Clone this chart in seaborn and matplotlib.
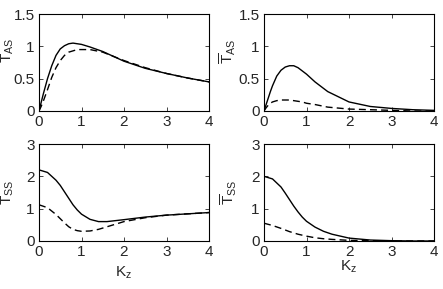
"""
Transmission curves T_AS / T_SS vs K_z (four panels)
"""
import numpy as np
import pandas as pd
import matplotlib
matplotlib.use('Agg')
import matplotlib.pyplot as plt
import seaborn as sns

# ============================================================================
# DATA
# ============================================================================
kz_as = [0, 0.05, 0.1, 0.15, 0.2, 0.3, 0.4, 0.5, 0.6, 0.7, 0.8, 0.9, 1.0, 1.2, 1.5, 2.0, 2.5, 3.0, 3.5, 4.0]
tas_solid = [0, 0.13, 0.26, 0.38, 0.50, 0.70, 0.86, 0.96, 1.01, 1.04, 1.05, 1.04, 1.03, 0.99, 0.92, 0.77, 0.66, 0.58, 0.51, 0.45]
tas_dash = [0, 0.07, 0.15, 0.24, 0.33, 0.52, 0.67, 0.78, 0.86, 0.91, 0.93, 0.95, 0.95, 0.95, 0.91, 0.78, 0.67, 0.58, 0.51, 0.45]

tasbar_solid = [0, 0.10, 0.20, 0.30, 0.39, 0.54, 0.63, 0.68, 0.70, 0.70, 0.67, 0.62, 0.57, 0.45, 0.30, 0.14, 0.07, 0.04, 0.02, 0.01]
tasbar_dash = [0, 0.05, 0.09, 0.12, 0.14, 0.16, 0.17, 0.17, 0.17, 0.16, 0.15, 0.14, 0.12, 0.10, 0.06, 0.03, 0.02, 0.01, 0.0, 0.0]

kz_ss = [0, 0.2, 0.4, 0.5, 0.6, 0.7, 0.8, 0.9, 1.0, 1.2, 1.4, 1.6, 2.0, 2.5, 3.0, 3.5, 4.0]
tss_solid = [2.2, 2.12, 1.88, 1.72, 1.52, 1.32, 1.12, 0.96, 0.83, 0.67, 0.60, 0.60, 0.66, 0.74, 0.80, 0.84, 0.88]
tss_dash = [1.12, 1.03, 0.82, 0.69, 0.56, 0.44, 0.36, 0.32, 0.30, 0.31, 0.36, 0.44, 0.60, 0.72, 0.80, 0.84, 0.88]

tssbar_solid = [2.0, 1.92, 1.67, 1.48, 1.28, 1.08, 0.90, 0.74, 0.61, 0.43, 0.30, 0.21, 0.09, 0.03, 0.01, 0.0, 0.0]
tssbar_dash = [0.55, 0.48, 0.39, 0.34, 0.29, 0.25, 0.21, 0.18, 0.15, 0.10, 0.07, 0.05, 0.02, 0.01, 0.0, 0.0, 0.0]

# ============================================================================
# STYLE
# ============================================================================
sns.set_style('ticks')
plt.rcParams['font.family'] = ['Liberation Sans', 'DejaVu Sans']
plt.rcParams['font.size'] = 8
plt.rcParams['mathtext.fontset'] = 'custom'
plt.rcParams['mathtext.rm'] = 'Liberation Sans'
plt.rcParams['mathtext.it'] = 'Liberation Sans'
plt.rcParams['xtick.direction'] = 'in'
plt.rcParams['ytick.direction'] = 'in'

W, H = 443, 289
fig = plt.figure(figsize=(W / 100, H / 100), dpi=100)


def make_axes(x0, y0, x1, y1):
    return fig.add_axes([x0 / W, 1 - y1 / H, (x1 - x0) / W, (y1 - y0) / H])


def draw(ax, x, solid, dash, ylim, yticks, yticklabels, ylabel, label_xy):
    df = pd.DataFrame({'kz': list(x) * 2, 'T': list(solid) + list(dash),
                       'kind': ['solid'] * len(x) + ['dash'] * len(x)})
    sns.lineplot(data=df, x='kz', y='T', style='kind', color='black',
                 dashes={'solid': '', 'dash': (5, 3)}, linewidth=1.0,
                 legend=False, ax=ax)
    ax.set_xlim(0, 4)
    ax.set_ylim(*ylim)
    ax.set_xticks([0, 1, 2, 3, 4])
    ax.set_xticklabels(['0', '1', '2', '3', '4'], fontsize=11)
    ax.set_yticks(yticks)
    ax.set_yticklabels(yticklabels, fontsize=11)
    ax.tick_params(top=True, right=True, length=3, width=0.6, pad=3)
    for s in ax.spines.values():
        s.set_linewidth(0.8)
        s.set_color('black')
    ax.set_ylabel(ylabel, fontsize=11)
    ax.yaxis.set_label_coords(*label_xy)
    ax.set_xlabel('')


ax1 = make_axes(39, 14, 209, 111)
ax2 = make_axes(264, 14, 434, 111)
ax3 = make_axes(39, 144, 209, 241)
ax4 = make_axes(264, 144, 434, 241)

top_ticks = [0, 0.5, 1, 1.5]
top_labels = ['0', '0.5', '1', '1.5']
bot_ticks = [0, 1, 2, 3]
bot_labels = ['0', '1', '2', '3']

draw(ax1, kz_as, tas_solid, tas_dash, (0, 1.5), top_ticks, top_labels,
     r'$\mathrm{T_{AS}}$', (-0.135, 0.62))
draw(ax2, kz_as, tasbar_solid, tasbar_dash, (0, 1.5), top_ticks, top_labels,
     r'$\overline{\mathrm{T}}_{\mathrm{AS}}$', (-0.15, 0.61))
draw(ax3, kz_ss, tss_solid, tss_dash, (0, 3), bot_ticks, bot_labels,
     r'$\mathrm{T_{SS}}$', (-0.135, 0.505))
draw(ax4, kz_ss, tssbar_solid, tssbar_dash, (0, 3), bot_ticks, bot_labels,
     r'$\overline{\mathrm{T}}_{\mathrm{SS}}$', (-0.145, 0.505))

ax3.set_xlabel(r'$\mathrm{K_z}$', fontsize=11)
ax3.xaxis.set_label_coords(0.5, -0.24)
ax4.set_xlabel(r'$\mathrm{K_z}$', fontsize=11)
ax4.xaxis.set_label_coords(0.5, -0.18)

plt.savefig('out.png', dpi=100)
plt.close()
